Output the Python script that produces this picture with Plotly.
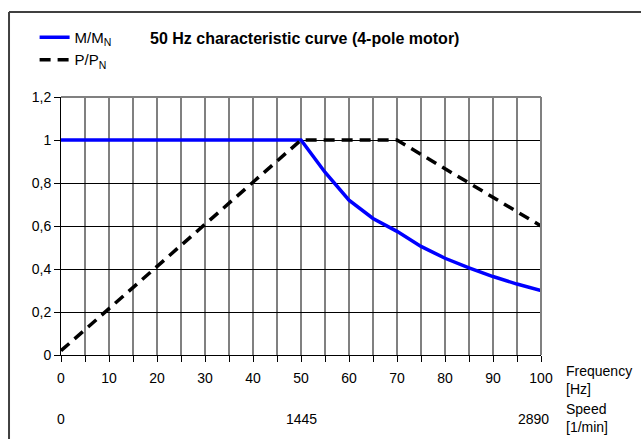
import plotly.graph_objects as go

# Frequency grid [Hz] and normalised curves
freq = [0, 5, 10, 15, 20, 25, 30, 35, 40, 45, 50, 55, 60, 65, 70, 75, 80, 85, 90, 95, 100]
torque = [1, 1, 1, 1, 1, 1, 1, 1, 1, 1, 1, 0.85, 0.72, 0.635, 0.575, 0.505, 0.45, 0.405, 0.365, 0.33, 0.30]
power_freq = [0, 50, 70, 100]
power = [0.02, 1.0, 1.0, 0.6]

# Axis labels
x_tick_vals = list(range(0, 101, 5))
x_tick_text = [str(v) if v % 10 == 0 else "" for v in x_tick_vals]
y_tick_vals = [0, 0.2, 0.4, 0.6, 0.8, 1.0, 1.2]
y_tick_text = ["0", "0,2", "0,4", "0,6", "0,8", "1", "1,2"]
speed_freq = [0, 50, 100]
speed_text = ["0", "1445", "2890"]
speed_shift = [0, 0, -8]

FONT = "Liberation Sans, Arial, sans-serif"

fig = go.Figure()
fig.add_trace(go.Scatter(x=freq, y=torque, mode="lines", name="M/M<sub>N</sub>",
                         line=dict(color="#0000ff", width=3.5)))
fig.add_trace(go.Scatter(x=power_freq, y=power, mode="lines", name="P/P<sub>N</sub>",
                         line=dict(color="#000000", width=3.5, dash="11px,7px")))

annotations = [
    dict(text="<b>50 Hz characteristic curve (4-pole motor)</b>", xref="paper", yref="paper",
         x=0.181, y=1.225, xanchor="left", yanchor="middle", showarrow=False,
         font=dict(family=FONT, size=16, color="#000000")),
    dict(text="Frequency<br>[Hz]", xref="paper", yref="paper", x=1.048, y=-0.097,
         xanchor="left", yanchor="middle", showarrow=False, align="left",
         font=dict(family=FONT, size=14, color="#000000")),
    dict(text="Speed<br>[1/min]", xref="paper", yref="paper", x=1.048, y=-0.243,
         xanchor="left", yanchor="middle", showarrow=False, align="left",
         font=dict(family=FONT, size=14, color="#000000")),
]
for f, s, sh in zip(speed_freq, speed_text, speed_shift):
    annotations.append(dict(text=s, xref="x", yref="paper", x=f, y=-0.248, xshift=sh,
                            xanchor="center", yanchor="middle", showarrow=False,
                            font=dict(family=FONT, size=14, color="#000000")))

shapes = [
    # outer frame (left and top edges)
    dict(type="line", xref="paper", yref="paper", x0=-0.1083, x1=-0.1083, y0=1.3295, y1=-0.4,
         line=dict(color="#404040", width=2)),
    dict(type="line", xref="paper", yref="paper", x0=-0.1083, x1=1.25, y0=1.3295, y1=1.3295,
         line=dict(color="#404040", width=2)),
    # grey plot border top and right
    dict(type="line", xref="paper", yref="paper", x0=0, x1=1, y0=1, y1=1,
         line=dict(color="#808080", width=2)),
    dict(type="line", xref="paper", yref="paper", x0=1, x1=1, y0=0, y1=1,
         line=dict(color="#808080", width=2)),
]

fig.update_layout(
    width=641, height=439,
    margin=dict(l=61, r=100, t=97, b=84),
    paper_bgcolor="white", plot_bgcolor="white",
    font=dict(family=FONT, size=14, color="#000000"),
    showlegend=True,
    legend=dict(x=-0.055, y=1.295, xanchor="left", yanchor="top",
                bgcolor="rgba(0,0,0,0)", font=dict(family=FONT, size=15),
                tracegroupgap=0, itemwidth=30),
    annotations=annotations,
    shapes=shapes,
    xaxis=dict(range=[0, 100], tickvals=x_tick_vals, ticktext=x_tick_text,
               showgrid=True, gridcolor="#808080", gridwidth=1.5,
               showline=True, linecolor="#000000", linewidth=1,
               ticks="outside", ticklen=6, tickcolor="#000000",
               ticklabelstandoff=4,
               zeroline=False, tickfont=dict(family=FONT, size=14)),
    yaxis=dict(range=[0, 1.2], tickvals=y_tick_vals, ticktext=y_tick_text,
               showgrid=True, gridcolor="#000000", gridwidth=1,
               showline=True, linecolor="#000000", linewidth=1,
               ticks="outside", ticklen=6, tickcolor="#000000",
               zeroline=False, tickfont=dict(family=FONT, size=14)),
)

fig.write_html("out.html")
